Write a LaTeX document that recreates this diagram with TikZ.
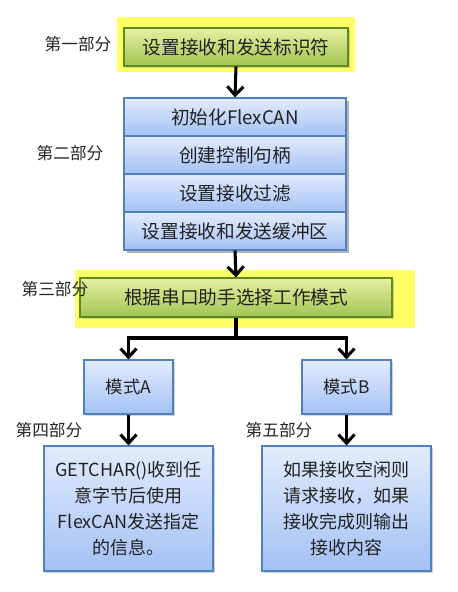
\documentclass[tikz,border=0pt]{standalone}
\usepackage{fontspec}
\newfontfamily\cjk{Noto Sans CJK SC}
\usetikzlibrary{arrows.meta,shadows}
\definecolor{hlyellow}{HTML}{FFFF66}
\definecolor{greentop}{HTML}{E6F0A0}
\definecolor{greenbot}{HTML}{A2C452}
\definecolor{greenline}{HTML}{5E8A22}
\definecolor{bluetop}{HTML}{E2ECFC}
\definecolor{bluebot}{HTML}{A3C1F5}
\definecolor{blueline}{HTML}{4F81BD}
\definecolor{txt}{HTML}{222222}
\tikzset{
  x=0.75pt, y=-0.75pt,
  every node/.style={font=\cjk, text=txt, inner sep=0pt},
  glow/.style={fill=hlyellow, draw=none},
  greenbox/.style={draw=greenline, line width=0.8pt, top color=greentop, bottom color=greenbot,
    drop shadow={shadow xshift=1.2pt, shadow yshift=-1.2pt, opacity=0.35}},
  bluebox/.style={draw=blueline, line width=0.8pt, top color=bluetop, bottom color=bluebot,
    drop shadow={shadow xshift=1.2pt, shadow yshift=-1.2pt, opacity=0.35}},
  rowbox/.style={draw=blueline, line width=0.8pt, top color=bluetop, bottom color=bluebot,
    minimum width=166.5pt, minimum height=28.5pt, font=\cjk\fontsize{14}{16}\selectfont},
  partlabel/.style={font=\cjk\fontsize{12.5}{14}\selectfont, text=black!85},
  flow/.style={line width=2.3pt, -{Straight Barb[length=6.5pt,width=12pt,line width=2.3pt]}},
  flowline/.style={line width=2.3pt},
}
\begin{document}
\begin{tikzpicture}
\useasboundingbox[fill=white] (0,0) rectangle (457,592);

% highlighted backgrounds of the two key steps
\node[glow, minimum width=178.5pt, minimum height=41.25pt] (hl1) at (236,44.5) {};
\node[glow, minimum width=255pt, minimum height=43.5pt] (hl2) at (245,299) {};

% part 1
\node[greenbox, minimum width=168pt, minimum height=28.5pt, font=\cjk\fontsize{14}{16}\selectfont]
  (g1) at (236,47) {设置接收和发送标识符};

% part 2: initialisation stack
\fill[black, opacity=0.3] (127,101) rectangle (349,253);
\node[rowbox] (b1) at (235,117) {初始化FlexCAN};
\node[rowbox] (b2) at (235,155) {创建控制句柄};
\node[rowbox] (b3) at (235,193) {设置接收过滤};
\node[rowbox] (b4) at (235,231) {设置接收和发送缓冲区};

% part 3
\node[greenbox, minimum width=234pt, minimum height=29.25pt, font=\cjk\fontsize{14}{16}\selectfont]
  (g2) at (236,297.5) {根据串口助手选择工作模式};

% modes
\node[bluebox, minimum width=66.75pt, minimum height=40.5pt, font=\cjk\fontsize{13}{15}\selectfont]
  (mA) at (128.5,387) {模式A};
\node[bluebox, minimum width=66.75pt, minimum height=40.5pt, font=\cjk\fontsize{13}{15}\selectfont]
  (mB) at (346.5,387) {模式B};

% mode descriptions
\node[bluebox, minimum width=126.75pt, minimum height=93.75pt, align=center,
      font=\cjk\fontsize{13.5}{19.5}\selectfont]
  (dA) at (128.5,508.5) {GETCHAR()收到任\\意字节后使用\\FlexCAN发送指定\\的信息。};
\node[bluebox, minimum width=126.75pt, minimum height=93.75pt, align=center,
      font=\cjk\fontsize{13.5}{19.5}\selectfont]
  (dB) at (346.5,508.5) {如果接收空闲则\\请求接收，如果\\接收完成则输出\\接收内容};

% part labels
\node[partlabel] (l1) at (78,44) {第一部分};
\node[partlabel] (l2) at (70,153) {第二部分};
\node[partlabel] (l3) at (55,289) {第三部分};
\node[partlabel] (l4) at (49,430) {第四部分};
\node[partlabel] (l5) at (279,430) {第五部分};

% connectors
\coordinate (split) at (236,338);
\coordinate (splitL) at (128.5,338);
\coordinate (splitR) at (346.5,338);
\draw[flow] (g1.south) -- (b1.north);
\draw[flow] (b4.south) -- (g2.north);
\draw[flowline] (g2.south) -- (split);
\draw[flowline] ([xshift=-1.15pt]splitL) -- ([xshift=1.15pt]splitR);
\draw[flow] (splitL) -- (mA.north);
\draw[flow] (splitR) -- (mB.north);
\draw[flow] (mA.south) -- (dA.north);
\draw[flow] (mB.south) -- (dB.north);
\end{tikzpicture}
\end{document}
